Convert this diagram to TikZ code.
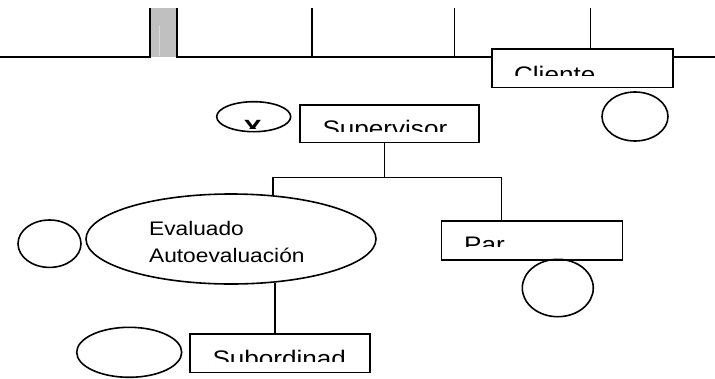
\documentclass[tikz,border=0pt]{standalone}
\usepackage{fontspec}
\setmainfont{Liberation Sans}
\newfontfamily\lab[FakeStretch=1.16]{Liberation Sans}
\usetikzlibrary{shapes.geometric,calc}
\definecolor{barfill}{HTML}{C0C0C0}
\definecolor{barline}{HTML}{DADADA}
\begin{document}
\begin{tikzpicture}[x=1pt,y=-1pt,line width=1.6pt,
  box/.style={draw,rectangle,fill=white,inner sep=0pt,anchor=north west},
  oval/.style={draw,ellipse,inner sep=0pt,anchor=center},
  lbl/.style={anchor=base west,inner sep=0pt,font=\lab\fontsize{22.5}{27}\selectfont},
  lblsmall/.style={anchor=base west,inner sep=0pt,font=\lab\fontsize{19.6}{24}\selectfont}]
\useasboundingbox (0,0) rectangle (715,378);
% top rule with bar
\fill[barfill] (150,8) rectangle (176.7,57);
\draw[barline,line width=0.7pt] (159.3,26) -- (159.3,56);
\draw (0,57) -- (150,57) -- (150,8);
\draw (176.7,8) -- (176.7,57) -- (715,57);
\draw (312,8) -- (312,57);
\draw (454.5,8) -- (454.5,57);
\draw (590.5,8) -- (590.5,57);
% nodes
\node[box,minimum width=181pt,minimum height=38.5pt] (cli) at (491,48) {};
\node[oval,minimum width=66pt,minimum height=49pt] (ocli) at (635,116.5) {};
\node[oval,minimum width=74pt,minimum height=30pt] (ox) at (253.7,116.7) {};
\node[box,minimum width=179pt,minimum height=37.5pt] (sup) at (299.3,104) {};
\node[oval,minimum width=290pt,minimum height=90pt] (eval) at (231,239) {};
\node[oval,minimum width=63pt,minimum height=47.4pt] (oeval) at (49.5,243.7) {};
\node[box,minimum width=181pt,minimum height=39pt] (par) at (440.7,220) {};
\node[oval,minimum width=71pt,minimum height=57.4pt] (opar) at (557.8,288) {};
\node[box,minimum width=180.3pt,minimum height=38.4pt] (sub) at (189,333.3) {};
\node[oval,minimum width=105pt,minimum height=50pt] (osub) at (129.2,352.3) {};
% labels (clipped like the original text frames)
\begin{scope}
  \clip (495,50) rectangle (668,75.7);
  \node[lbl] (tcli) at (513.3,82.8) {Cliente};
\end{scope}
\begin{scope}
  \clip (220,105) rectangle (288,128.8);
  \node[lbl,font=\lab\bfseries\fontsize{23.5}{28}\selectfont,anchor=base] (tx) at (252.7,136.3) {X};
\end{scope}
\begin{scope}
  \clip (303,106) rectangle (475,131.7);
  \node[lbl] (tsup) at (321.7,136.1) {Supervisor};
\end{scope}
\begin{scope}
  \clip (140,205) rectangle (330,263.5);
  \node[lblsmall] (tev1) at (148.3,235) {Evaluado};
  \node[lblsmall] (tev2) at (148.3,262.5) {Autoevaluación};
\end{scope}
\begin{scope}
  \clip (444,222) rectangle (618,246.7);
  \node[lbl] (tpar) at (463.3,252.8) {Par};
\end{scope}
\begin{scope}
  \clip (192,336) rectangle (366,361.7);
  \node[lbl] (tsub) at (211.7,366.8) {Subordinad};
\end{scope}
% connectors
\coordinate (j0) at (384.3,177.3);
\coordinate (jl) at (273,177.3);
\coordinate (jr) at (501.5,177.3);
\coordinate (jb) at (275,300);
\draw (sup.south -| j0) -- (j0);
\draw ($(jl)+(-1.3,0)$) -- (jr);
\draw (jl) -- ($(jl |- eval.north)+(0,2)$);
\draw (jr) -- (jr |- par.north);
\draw ($(eval.south -| jb)+(0,-2)$) -- (jb |- sub.north);
\end{tikzpicture}
\end{document}
